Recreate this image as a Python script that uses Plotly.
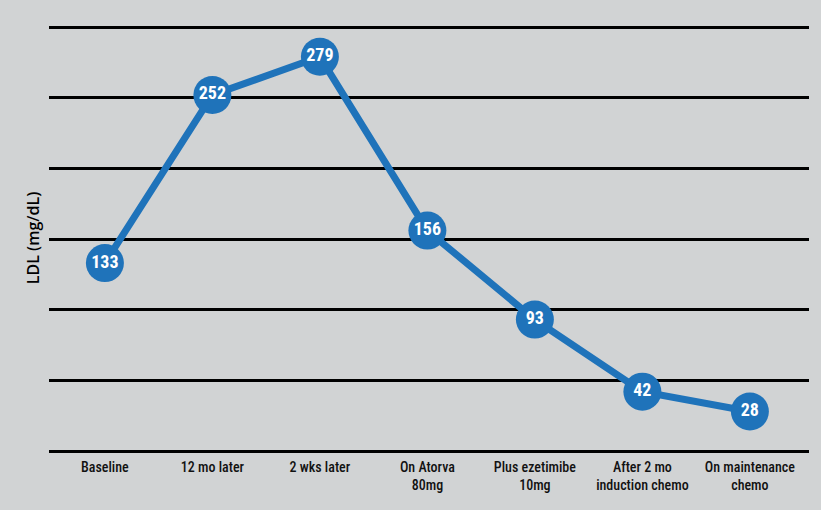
import plotly.graph_objects as go

categories = ["Baseline", "12 mo later", "2 wks later", "On Atorva<br>80mg",
              "Plus ezetimibe<br>10mg", "After 2 mo<br>induction chemo", "On maintenance<br>chemo"]
ldl_values = [133, 252, 279, 156, 93, 42, 28]
y_ticks = [0, 50, 100, 150, 200, 250, 300]

FONT = "Liberation Sans Narrow, Roboto Condensed, Arial Narrow, sans-serif"
BLUE = "#1f73ba"

fig = go.Figure(go.Scatter(
    x=list(range(len(categories))), y=ldl_values,
    mode="lines+markers+text",
    line=dict(color=BLUE, width=7),
    marker=dict(size=38, color=BLUE),
    text=[str(v) for v in ldl_values],
    textposition="middle center",
    textfont=dict(family=FONT, size=18, color="white", weight="bold"),
    cliponaxis=False,
    hoverinfo="skip",
))

fig.update_layout(
    width=821, height=510,
    margin=dict(l=49, r=12, t=25, b=59),
    paper_bgcolor="#d1d3d4", plot_bgcolor="#d1d3d4",
    showlegend=False,
    xaxis=dict(
        tickmode="array", tickvals=list(range(len(categories))), ticktext=categories,
        range=[-0.52, 6.55], showgrid=False, zeroline=False, showline=False,
        ticks="", ticklabelstandoff=6,
        tickfont=dict(family=FONT, size=14, color="#111111", weight=500),
    ),
    yaxis=dict(
        range=[0, 301.5], tickvals=y_ticks, showticklabels=False,
        showgrid=True, gridcolor="black", gridwidth=3,
        zeroline=True, zerolinecolor="black", zerolinewidth=3,
        title=dict(text="LDL (mg/dL)", font=dict(family="Open Sans, sans-serif", size=16, color="black", weight=600), standoff=4),
    ),
)

fig.write_html("out.html", config={"displayModeBar": False},
               post_script="document.body.style.margin='0';")
